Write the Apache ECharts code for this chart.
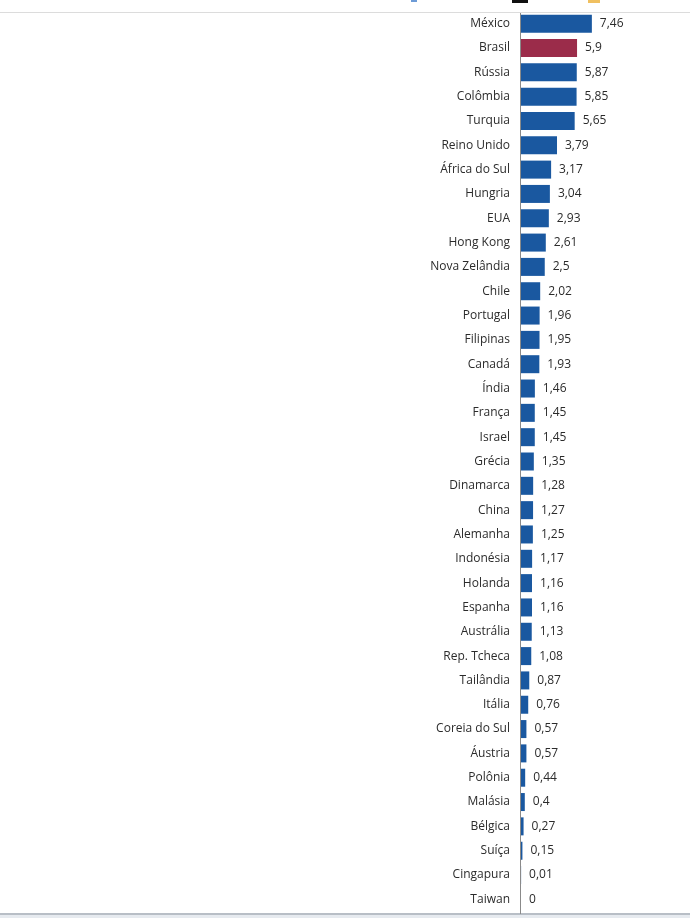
<!DOCTYPE html>
<html>
<head>
<meta charset="utf-8">
<script src="https://cdn.jsdelivr.net/npm/echarts@6/dist/echarts.min.js"></script>
<style>
  html, body { margin: 0; padding: 0; background: #fff; }
  #chart { width: 690px; height: 918px; }
</style>
</head>
<body>
<div id="chart"></div>
<script>
// 국가 목록 (위에서 아래 순서)
var countries = ['México', 'Brasil', 'Rússia', 'Colômbia', 'Turquia', 'Reino Unido',
	'África do Sul', 'Hungria', 'EUA', 'Hong Kong', 'Nova Zelândia', 'Chile',
	'Portugal', 'Filipinas', 'Canadá', 'Índia', 'França', 'Israel', 'Grécia',
	'Dinamarca', 'China', 'Alemanha', 'Indonésia', 'Holanda', 'Espanha',
	'Austrália', 'Rep. Tcheca', 'Tailândia', 'Itália', 'Coreia do Sul', 'Áustria',
	'Polônia', 'Malásia', 'Bélgica', 'Suíça', 'Cingapura', 'Taiwan'];

// 값
var values = [7.46, 5.9, 5.87, 5.85, 5.65, 3.79,
	3.17, 3.04, 2.93, 2.61, 2.5, 2.02,
	1.96, 1.95, 1.93, 1.46, 1.45, 1.45, 1.35,
	1.28, 1.27, 1.25, 1.17, 1.16, 1.16,
	1.13, 1.08, 0.87, 0.76, 0.57, 0.57,
	0.44, 0.4, 0.27, 0.15, 0.01, 0];

var highlight = 'Brasil';

var chart = echarts.init(document.getElementById('chart'));

var barData = [];
for (var i = 0; i < values.length; i++) {
	barData.push({
		value: values[i],
		itemStyle: { color: countries[i] === highlight ? '#9b2c4a' : '#1a58a0' }
	});
}

var option = {
	animation: false,
	textStyle: { fontFamily: 'Open Sans' },
	grid: {
		left: 521,
		right: 93,
		top: 11.5,
		bottom: 6.5
	},
	xAxis: {
		type: 'value',
		min: 0,
		max: 8,
		show: false
	},
	yAxis: {
		type: 'category',
		data: countries,
		inverse: true,
		axisLine: { show: false },
		axisTick: { show: false },
		axisLabel: {
			margin: 11,
			color: '#2b2b2b',
			fontSize: 12,
			fontFamily: 'Open Sans'
		}
	},
	series: [{
		type: 'bar',
		data: barData,
		barWidth: 18,
		label: {
			show: true,
			position: 'right',
			distance: 8,
			color: '#2b2b2b',
			fontSize: 12,
			fontFamily: 'Open Sans',
			formatter: function(p) {
				return String(p.value).replace('.', ',');
			}
		}
	}],
	graphic: [
		// 위쪽 구분선
		{ type: 'rect', shape: { x: 0, y: 12, width: 690, height: 1 }, style: { fill: '#dcdcdc' }, z: 0 },
		// 세로 축선
		{ type: 'rect', shape: { x: 520, y: 13, width: 1, height: 901 }, style: { fill: '#8a8a8a' }, z: 10 },
		// 아래쪽 테두리
		{ type: 'rect', shape: { x: 0, y: 913, width: 690, height: 2 }, style: { fill: '#b8bec6' }, z: 0 },
		{ type: 'rect', shape: { x: 0, y: 915, width: 690, height: 3 }, style: { fill: '#e6eaef' }, z: 0 },
		// 잘린 아이콘 조각
		{ type: 'rect', shape: { x: 411, y: 0, width: 6, height: 2 }, style: { fill: '#6d9bd6' }, z: 0 },
		{ type: 'rect', shape: { x: 512, y: 0, width: 16, height: 3 }, style: { fill: '#111' }, z: 0 },
		{ type: 'rect', shape: { x: 588, y: 0, width: 12, height: 3 }, style: { fill: '#f0c060' }, z: 0 }
	]
};

chart.setOption(option);
</script>
</body>
</html>
